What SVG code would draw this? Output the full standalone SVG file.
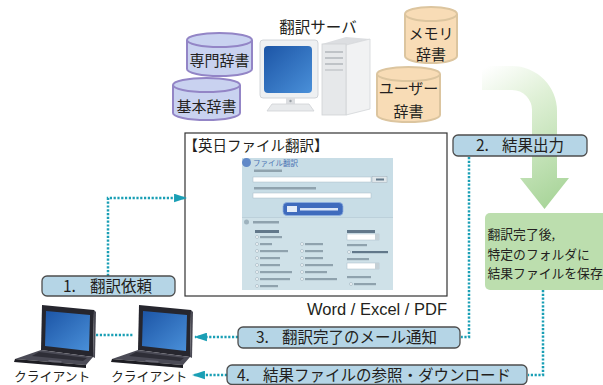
<svg xmlns="http://www.w3.org/2000/svg" width="603" height="385" viewBox="0 0 603 385">
  <style>
    .jp { font-family: "Noto Sans CJK JP", "Noto Sans", sans-serif; fill: #231f20; }
    .lbl { fill: #b5d5e6; stroke: #4d4d4d; stroke-width: 1.3; }
    .lt { font-size: 15.5px; }
    .cyl-p { fill: #c9d2f0; stroke: #9385c6; stroke-width: 2; }
    .cyl-t { fill: #f8dcb6; stroke: #dcc59f; stroke-width: 2; }
    .dot { fill: none; stroke: #1a9fb5; stroke-width: 2.5; stroke-dasharray: 2.2 1.6; }
    .ui-bar { fill: #8fa2ad; }
    .ui-dark { fill: #62788a; }
    .ui-in { fill: #ffffff; stroke: #a9bcc6; stroke-width: 0.5; }
    .radio { fill: #f4f8fa; stroke: #8fa3ae; stroke-width: 0.5; }
  </style>
  <defs>
    <linearGradient id="scr" x1="0" y1="0" x2="1" y2="1">
      <stop offset="0" stop-color="#1c55a6"/>
      <stop offset="1" stop-color="#4a90d9"/>
    </linearGradient>
    <linearGradient id="flow" gradientUnits="userSpaceOnUse" x1="478" y1="72" x2="560" y2="200">
      <stop offset="0" stop-color="#ffffff"/>
      <stop offset="0.35" stop-color="#dff0d6"/>
      <stop offset="1" stop-color="#a9d59a"/>
    </linearGradient>
    <marker id="head" viewBox="0 0 12 8" refX="11" refY="4" markerUnits="userSpaceOnUse" markerWidth="13" markerHeight="9" orient="auto">
      <path d="M0,0 L12,4 L0,8 Z" fill="#1a9fb5"/>
    </marker>
    <g id="laptop">
      <polygon points="42,305 94,310 93,357 41,350" fill="#26262e"/>
      <polygon points="94,310 96,312 95,358 93,357" fill="#4a4a54"/>
      <polygon points="46,311 90,315 89,351 45,346" fill="url(#scr)"/>
      <polygon points="41,350 93,357 86,365 15,359" fill="#4b4b56"/>
      <polygon points="39,352 87,358 83,361 32,356" fill="#2e2e37"/>
      <polygon points="49,360 62,361 60,363 47,362" fill="#6a6a76"/>
      <polygon points="15,359 86,365 86,368 14,362" fill="#1d1d23"/>
    </g>
  </defs>

  <rect width="603" height="385" fill="#ffffff"/>

  <!-- translation flow arrow -->
  <g id="flow-arrow">
    <path d="M482,66 H512 A45,45 0 0 1 557,111 V178 H569 L544.5,209 L520,178 H532 V111 A20,20 0 0 0 512,90 H482 Z" fill="url(#flow)"/>
  </g>

  <!-- dictionaries -->
  <g id="dict-senmon">
    <path class="cyl-p" d="M187,40 V69 A32.5,7 0 0 0 252,69 V40"/>
    <ellipse class="cyl-p" cx="219.5" cy="40" rx="32.5" ry="7"/>
    <text class="jp" x="219.5" y="66" font-size="15" text-anchor="middle">専門辞書</text>
  </g>
  <g id="dict-kihon">
    <path class="cyl-p" d="M173,85 V113 A33.5,7 0 0 0 240,113 V85"/>
    <ellipse class="cyl-p" cx="206.5" cy="85" rx="33.5" ry="7"/>
    <text class="jp" x="206.5" y="112" font-size="15" text-anchor="middle">基本辞書</text>
  </g>
  <g id="dict-memory">
    <path class="cyl-t" d="M405,14 V56 A26,7 0 0 0 457,56 V14"/>
    <ellipse class="cyl-t" cx="431" cy="14" rx="26" ry="7"/>
    <text class="jp" x="431" y="39" font-size="15" text-anchor="middle">メモリ</text>
    <text class="jp" x="431" y="60" font-size="15" text-anchor="middle">辞書</text>
  </g>
  <g id="dict-user">
    <path class="cyl-t" d="M377,74 V115 A31.5,7 0 0 0 440,115 V74"/>
    <ellipse class="cyl-t" cx="408.5" cy="74" rx="31.5" ry="7"/>
    <text class="jp" x="408.5" y="94" font-size="15" text-anchor="middle">ユーザー</text>
    <text class="jp" x="408.5" y="117" font-size="15" text-anchor="middle">辞書</text>
  </g>

  <!-- translation server -->
  <g id="server">
    <text class="jp" x="318" y="33" font-size="15.5" text-anchor="middle">翻訳サーバ</text>
    <!-- tower -->
    <polygon points="322,44 346,37 370,39 346,45" fill="#dcdee1"/>
    <polygon points="346,45 370,39 370,109 346,115" fill="#f1f2f3" stroke="#d3d5d8" stroke-width="0.8"/>
    <rect x="322" y="44" width="24" height="71" fill="#e6e8ea" stroke="#cfd2d5" stroke-width="0.8"/>
    <rect x="325" y="51" width="18" height="2" fill="#bfc3c7"/>
    <rect x="325" y="57" width="18" height="2" fill="#bfc3c7"/>
    <rect x="325" y="63" width="18" height="2" fill="#bfc3c7"/>
    <rect x="325" y="69" width="18" height="2" fill="#cdd0d3"/>
    <!-- monitor -->
    <rect x="260" y="40" width="58" height="58" rx="3" fill="#eef0f2" stroke="#c8ccd0" stroke-width="0.8"/>
    <rect x="264" y="46" width="48" height="47" rx="4" fill="url(#scr)"/>
    <rect x="286" y="98" width="9" height="7" fill="#dcdee1"/>
    <circle cx="290.5" cy="101" r="1.2" fill="#9aa0a6"/>
    <polygon points="272,104 309,104 314,111 267,111" fill="#e8eaec" stroke="#cfd2d5" stroke-width="0.8"/>
  </g>

  <!-- web form window -->
  <g id="file-translate">
    <rect x="185" y="133" width="262" height="163" fill="#ffffff" stroke="#333333" stroke-width="1.2"/>
    <text class="jp" x="183.5" y="151" font-size="14.5">【英日ファイル翻訳】</text>
    <!-- form screenshot -->
    <rect x="242" y="158" width="151" height="132" fill="#c8dde6"/>
    <rect x="242" y="218" width="151" height="72" fill="#cfe1e8"/>
    <circle cx="246.5" cy="162.5" r="4.5" fill="#6189c8"/>
    <text class="jp" x="253" y="166" font-size="7.5" style="fill:#4d72b3">ファイル翻訳</text>
    <rect class="ui-bar" x="254" y="169.5" width="28" height="2.5"/>
    <rect class="ui-in" x="253" y="177" width="118" height="5"/>
    <rect x="372" y="176.5" width="15" height="6" fill="#dfe6ea" stroke="#9fb0ba" stroke-width="0.5"/>
    <rect class="ui-dark" x="376" y="178.5" width="8" height="2"/>
    <rect class="ui-bar" x="254" y="187" width="62" height="2.5"/>
    <rect class="ui-in" x="253" y="193" width="118" height="5"/>
    <rect x="283" y="202.5" width="60" height="13" rx="4" fill="#3f6bbd" stroke="#8fb0e0" stroke-width="0.8"/>
    <rect x="287" y="206" width="10" height="6" fill="#e4ecf8"/>
    <rect x="300" y="208" width="38" height="2.5" fill="#dbe6f7"/>
    <line x1="242" y1="217.5" x2="393" y2="217.5" stroke="#b3c8d2" stroke-width="0.6"/>
    <circle cx="246.5" cy="222" r="2.5" fill="#9eb2bd"/>
    <rect class="ui-bar" x="253" y="221" width="26" height="2.5"/>
    <!-- column 1 -->
    <rect class="ui-dark" x="255" y="230" width="24" height="3"/>
    <circle class="radio" cx="257" cy="237" r="1.5"/><rect class="ui-bar" x="260" y="236" width="22" height="2.2"/>
    <circle class="radio" cx="257" cy="244" r="1.5"/><rect class="ui-bar" x="260" y="243" width="12" height="2.2"/>
    <circle class="radio" cx="257" cy="251" r="1.5"/><rect class="ui-bar" x="260" y="250" width="28" height="2.2"/>
    <circle class="radio" cx="257" cy="258" r="1.5"/><rect class="ui-bar" x="260" y="257" width="20" height="2.2"/>
    <circle class="radio" cx="257" cy="265" r="1.5"/><rect class="ui-bar" x="260" y="264" width="20" height="2.2"/>
    <circle class="radio" cx="257" cy="272" r="1.5"/><rect class="ui-bar" x="260" y="271" width="32" height="2.2"/>
    <circle class="radio" cx="257" cy="279" r="1.5"/><rect class="ui-bar" x="260" y="278" width="30" height="2.2"/>
    <circle class="radio" cx="257" cy="286" r="1.5"/><rect class="ui-bar" x="260" y="285" width="18" height="2.2"/>
    <!-- column 2 -->
    <circle class="radio" cx="302" cy="244" r="1.5"/><rect class="ui-bar" x="305" y="243" width="18" height="2.2"/>
    <circle class="radio" cx="302" cy="251" r="1.5"/><rect class="ui-bar" x="305" y="250" width="18" height="2.2"/>
    <circle class="radio" cx="302" cy="258" r="1.5"/><rect class="ui-bar" x="305" y="257" width="18" height="2.2"/>
    <circle class="radio" cx="302" cy="265" r="1.5"/><rect class="ui-bar" x="305" y="264" width="28" height="2.2"/>
    <circle class="radio" cx="302" cy="272" r="1.5"/><rect class="ui-bar" x="305" y="271" width="22" height="2.2"/>
    <circle class="radio" cx="302" cy="279" r="1.5"/><rect class="ui-bar" x="305" y="278" width="32" height="2.2"/>
    <!-- column 3 -->
    <rect class="ui-dark" x="347" y="230" width="28" height="3"/>
    <rect class="ui-in" x="347" y="234" width="32" height="6"/>
    <rect x="375" y="234" width="4" height="6" fill="#c4d0d6"/>
    <rect class="ui-bar" x="347" y="244" width="20" height="2.2"/>
    <circle class="radio" cx="349" cy="252" r="1.5"/><rect class="ui-dark" x="352" y="251" width="36" height="2.2"/>
    <rect class="ui-bar" x="347" y="258" width="22" height="2.2"/>
    <rect class="ui-in" x="347" y="263" width="32" height="6"/>
    <rect x="375" y="263" width="4" height="6" fill="#c4d0d6"/>
    <rect class="ui-bar" x="347" y="276" width="24" height="2.2"/>
    <circle class="radio" cx="351" cy="284" r="1.5"/><rect class="ui-bar" x="354" y="283" width="22" height="2.2"/>
    <text x="447" y="315" font-family="'Liberation Sans', Arial, sans-serif" font-size="16.5" fill="#231f20" text-anchor="end">Word / Excel / PDF</text>
  </g>

  <!-- result folder note -->
  <g id="save-note">
    <rect x="485" y="213" width="130" height="77" rx="5" fill="#bcdeae"/>
    <text class="jp" x="487.5" y="239" font-size="12.8">翻訳完了後,</text>
    <text class="jp" x="487.5" y="258.5" font-size="12.8">特定のフォルダに</text>
    <text class="jp" x="487.5" y="278" font-size="12.8">結果ファイルを保存</text>
  </g>

  <!-- clients -->
  <g id="client-1">
    <use href="#laptop"/>
    <text class="jp" x="14" y="381" font-size="12.8">クライアント</text>
  </g>
  <g id="client-2">
    <use href="#laptop" transform="translate(97,0)"/>
    <text class="jp" x="111" y="381" font-size="12.8">クライアント</text>
  </g>

  <!-- connectors -->
  <g id="connectors">
    <path class="dot" d="M108,276 V198 H186" marker-end="url(#head)"/>
    <path class="dot" d="M469,157 V337 H461"/>
    <path class="dot" d="M238,337 H195" marker-end="url(#head)"/>
    <path class="dot" d="M543,290 V375 H528"/>
    <path class="dot" d="M227,375 H193" marker-end="url(#head)"/>
    <path class="dot" d="M96,335 H134"/>
  </g>

  <!-- step labels -->
  <g id="step-1">
    <rect class="lbl" x="42" y="276" width="133" height="20" rx="5"/>
    <text class="jp lt" y="292"><tspan x="63">1.</tspan><tspan x="90">翻訳依頼</tspan></text>
  </g>
  <g id="step-2">
    <rect class="lbl" x="453" y="135" width="134" height="21" rx="5"/>
    <text class="jp lt" y="151"><tspan x="476">2.</tspan><tspan x="502">結果出力</tspan></text>
  </g>
  <g id="step-3">
    <rect class="lbl" x="238" y="327" width="222" height="21" rx="5"/>
    <text class="jp lt" y="343"><tspan x="256">3.</tspan><tspan x="282">翻訳完了のメール通知</tspan></text>
  </g>
  <g id="step-4">
    <rect class="lbl" x="227" y="365" width="300" height="19.5" rx="5"/>
    <text class="jp lt" y="381"><tspan x="237">4.</tspan><tspan x="263">結果ファイルの参照・ダウンロード</tspan></text>
  </g>
</svg>
